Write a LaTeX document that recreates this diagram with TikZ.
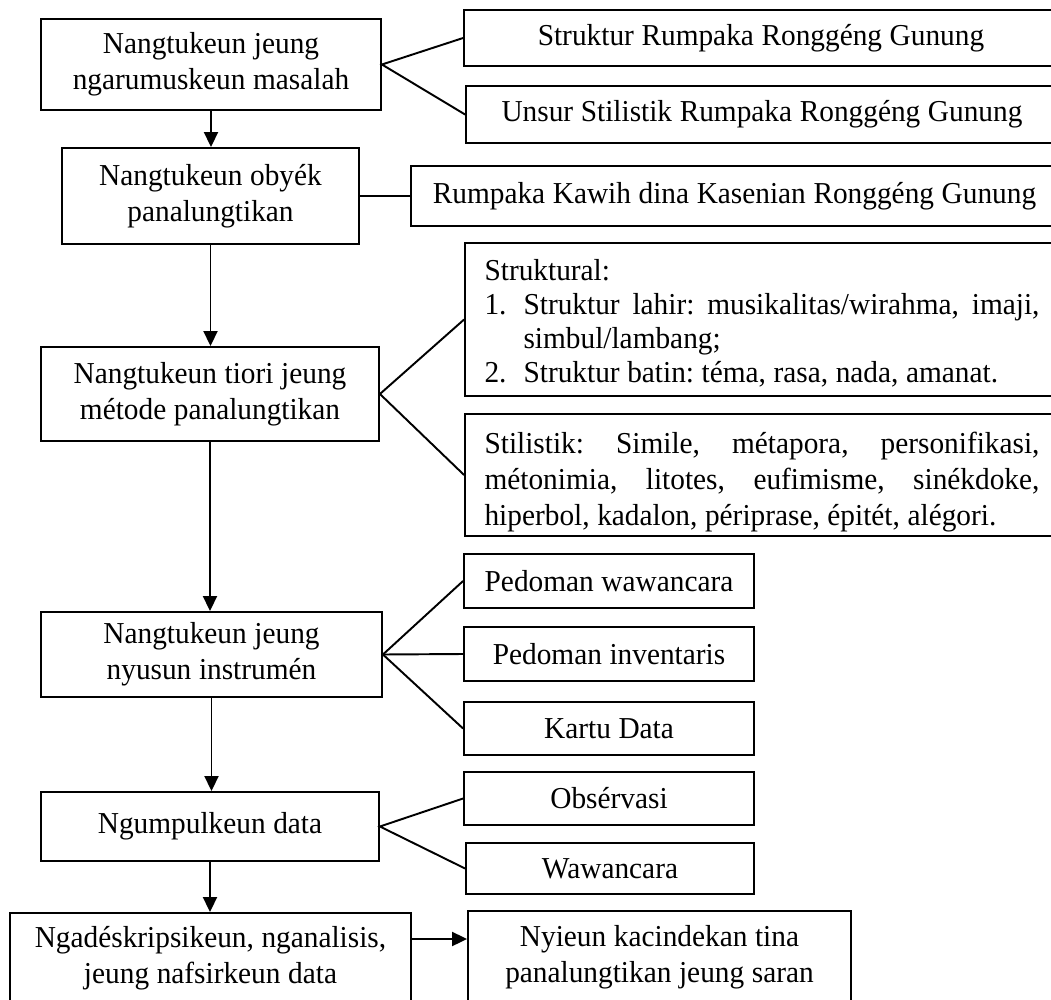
\documentclass[tikz,border=0pt]{standalone}
\usepackage{fontspec}
\setmainfont{Liberation Serif}[FakeStretch=0.965]
\usetikzlibrary{arrows.meta}

\newcommand{\jline}[2]{\makebox[#1][s]{\spaceskip=0.25em plus 2em\relax #2}}
\frenchspacing

\begin{document}
\begin{tikzpicture}[x=0.02cm,y=-0.02cm,
        txt/.style={inner sep=0pt,align=center,font=\fontsize{17.3}{20.4}\selectfont,
            execute at begin node={\spaceskip=0.25em plus 0.12em minus 0.08em\xspaceskip=0.25em\relax}},
        box/.style={txt,draw,line width=1.1pt},
        link/.style={line width=1.1pt},
        arr/.style={line width=1.1pt,-{Triangle[length=0.3cm,width=0.28cm]}}]
    \path[use as bounding box] (0,0) rectangle (1051,1000);
    \clip (0,0) rectangle (1051,1000);

    \node[box,minimum width=6.8cm,minimum height=1.82cm] (masalah) at (211,64.5)
        {Nangtukeun jeung\\ngarumuskeun masalah};
    \node[box,minimum width=5.94cm,minimum height=1.92cm] (obyek) at (210.5,196)
        {Nangtukeun obyék\\panalungtikan};
    \node[box,minimum width=6.76cm,minimum height=1.88cm] (tiori) at (210,394)
        {Nangtukeun tiori jeung\\métode panalungtikan};
    \node[box,minimum width=6.82cm,minimum height=1.7cm] (instrumen) at (211.5,654.5)
        {Nangtukeun jeung\\nyusun instrumén};
    \node[box,minimum width=6.76cm,minimum height=1.38cm] (data) at (210,826.5)
        {Ngumpulkeun data};
    \node[box,minimum width=8.02cm,minimum height=1.8cm] (analisis) at (210.5,958)
        {Ngadéskripsikeun, nganalisis,\\jeung nafsirkeun data};

    \node[box,minimum width=11.88cm,minimum height=1.12cm] (struktur) at (761,38)
        {Struktur Rumpaka Ronggéng Gunung};
    \node[box,minimum width=11.84cm,minimum height=1.14cm] (unsur) at (762,114.5)
        {Unsur Stilistik Rumpaka Ronggéng Gunung};
    \node[box,minimum width=12.94cm,minimum height=1.2cm] (rumpaka) at (734.5,196)
        {Rumpaka Kawih dina Kasenian Ronggéng Gunung};
    \node[box,minimum width=11.88cm,minimum height=3.06cm] (struktural) at (762,319.5) {};
    \node[txt,text width=11.1cm,align=left] (strukturaltext) at (762,323)
        {Struktural:\\[-1pt]
         \makebox[0.78cm][l]{1.}\jline{10.32cm}{Struktur lahir: musikalitas/wirahma, imaji,}\\[-1pt]
         \hspace*{0.78cm}simbul/lambang;\\[-1pt]
         \makebox[0.78cm][l]{2.}Struktur batin: téma, rasa, nada, amanat.};
    \node[box,minimum width=11.88cm,minimum height=2.44cm] (stilistik) at (762,475) {};
    \node[txt,text width=11.1cm,align=left] (stilistiktext) at (762,482)
        {\jline{11.1cm}{Stilistik: Simile, métapora, personifikasi,}\\
         \jline{11.1cm}{métonimia, litotes, eufimisme, sinékdoke,}\\
         hiperbol, kadalon, périprase, épitét, alégori.};
    \node[box,minimum width=5.8cm,minimum height=1.08cm] (wawancara) at (609,581)
        {Pedoman wawancara};
    \node[box,minimum width=5.8cm,minimum height=1.08cm] (inventaris) at (609,654)
        {Pedoman inventaris};
    \node[box,minimum width=5.8cm,minimum height=1.06cm] (kartu) at (609,728.5)
        {Kartu Data};
    \node[box,minimum width=5.8cm,minimum height=1.06cm] (observasi) at (609,798.5)
        {Obsérvasi};
    \node[box,minimum width=5.76cm,minimum height=1.02cm] (wawancara2) at (610,868.5)
        {Wawancara};
    \node[box,minimum width=7.66cm,minimum height=1.84cm] (kacindekan) at (659.5,957)
        {Nyieun kacindekan tina\\panalungtikan jeung saran};

    \draw[arr] (masalah.south) -- (masalah.south |- obyek.north);
    \draw[arr] (obyek.south) -- (obyek.south |- tiori.north);
    \draw[arr] (tiori.south) -- (tiori.south |- instrumen.north);
    \draw[arr] (instrumen.south) -- (instrumen.south |- data.north);
    \draw[arr] (data.south) -- (data.south |- analisis.north);
    \draw[arr] (analisis.east |- 0,939) -- (kacindekan.west |- 0,939);

    \draw[link] (struktur.west) -- (masalah.east) -- (unsur.west);
    \draw[link] (obyek.east) -- (rumpaka.west);
    \draw[link] (struktural.west) -- (tiori.east) -- (stilistik.west);
    \draw[link] (wawancara.west) -- (instrumen.east) -- (kartu.west);
    \draw[link] (instrumen.east) -- (inventaris.west);
    \draw[link] (observasi.west) -- (data.east) -- (wawancara2.west);
\end{tikzpicture}
\end{document}
